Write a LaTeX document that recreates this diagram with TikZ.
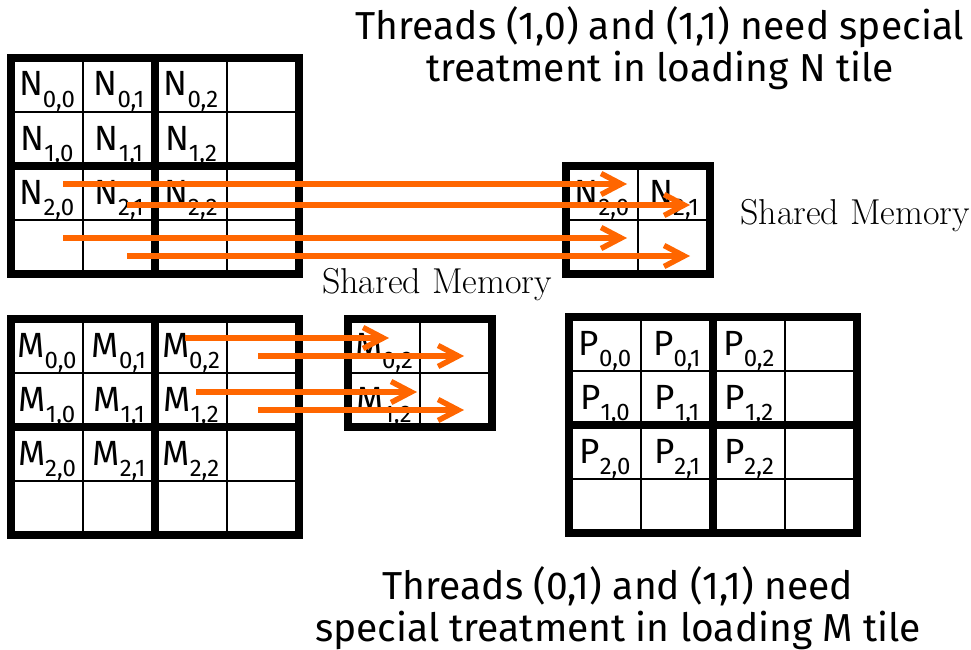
\documentclass[tikz,border=0pt]{standalone}
\usepackage{fontspec}
\newfontfamily\slidefont{Fira Sans}
\usetikzlibrary{arrows.meta}
\definecolor{ldorange}{RGB}{255,102,0}
\newcommand{\elem}[2]{#1\raisebox{-11pt}{\fontsize{24}{24}\selectfont #2}}

\begin{document}
\begin{tikzpicture}[x=1pt, y=-1pt,
    thickln/.style={line width=7.5pt},
    thinln/.style={line width=1.6pt},
    lab/.style={font=\slidefont\fontsize{35}{35}\selectfont, inner sep=0pt, anchor=base},
    note/.style={font=\slidefont\fontsize{39}{42}\selectfont, align=center, inner sep=0pt},
    mem/.style={font=\fontsize{36}{36}\selectfont, inner sep=0pt, anchor=base west},
    load/.style={-{Straight Barb[length=20pt,width=21pt]}, ldorange, line width=5.5pt},
]
\useasboundingbox (0,0) rectangle (971,650);

% ---------- full matrices N, M, P ----------
\foreach \tname/\gx/\gy in {N/11/58, M/11/319, P/569/317} {
  \begin{scope}[shift={(\gx,\gy)}]
    \foreach \k in {72,216} \draw[thinln] (\k,0) -- (\k,216);
    \foreach \k in {54,162} \draw[thinln] (0,\k) -- (288,\k);
    \draw[thickln] (144,0) -- (144,216);
    \draw[thickln] (0,108) -- (288,108);
    \draw[thickln] (0,0) rectangle (288,216);
    \foreach \r in {0,1,2}
      \foreach \c in {0,1,2}
        \node[lab] (\tname\r\c) at (\c*72+36, \r*54+38) {\elem{\tname}{\r,\c}};
  \end{scope}
}

% ---------- shared memory tiles ----------
\begin{scope}[shift={(566,166)}]
  \draw[thinln] (72,0) -- (72,108);
  \draw[thinln] (0,54) -- (144,54);
  \draw[thickln] (0,0) rectangle (144,108);
  \node[lab] (Ns0) at (36,38)  {\elem{N}{2,0}};
  \node[lab] (Ns1) at (108,38) {\elem{N}{2,1}};
\end{scope}
\node[mem] (shn) at (740,224) {Shared Memory};

\begin{scope}[shift={(348,319)}]
  \draw[thinln] (72,0) -- (72,108);
  \draw[thinln] (0,54) -- (144,54);
  \draw[thickln] (0,0) rectangle (144,108);
  \node[lab] (Ms0) at (36,38) {\elem{M}{0,2}};
  \node[lab] (Ms1) at (36,92) {\elem{M}{1,2}};
\end{scope}
\node[mem] (shm) at (322,293) {Shared Memory};

% ---------- notes ----------
\node[note, anchor=north] (ntext) at (660,6)
  {Threads (1,0) and (1,1) need special\\treatment in loading N tile};
\node[note, anchor=north] (mtext) at (618,566)
  {Threads (0,1) and (1,1) need\\special treatment in loading M tile};

% ---------- loading arrows ----------
\foreach \i/\sx/\ex/\yy in {n1/63/627/184, n2/127/690/205, n3/63/627/238, n4/127/690/256,
                            m1/185/389/338, m2/258/464/356, m3/196/417/392, m4/258/464/410} {
  \coordinate (src\i) at (\sx,\yy);
  \coordinate (dst\i) at (\ex,\yy);
  \draw[load] (src\i) -- (dst\i);
}

\end{tikzpicture}
\end{document}
